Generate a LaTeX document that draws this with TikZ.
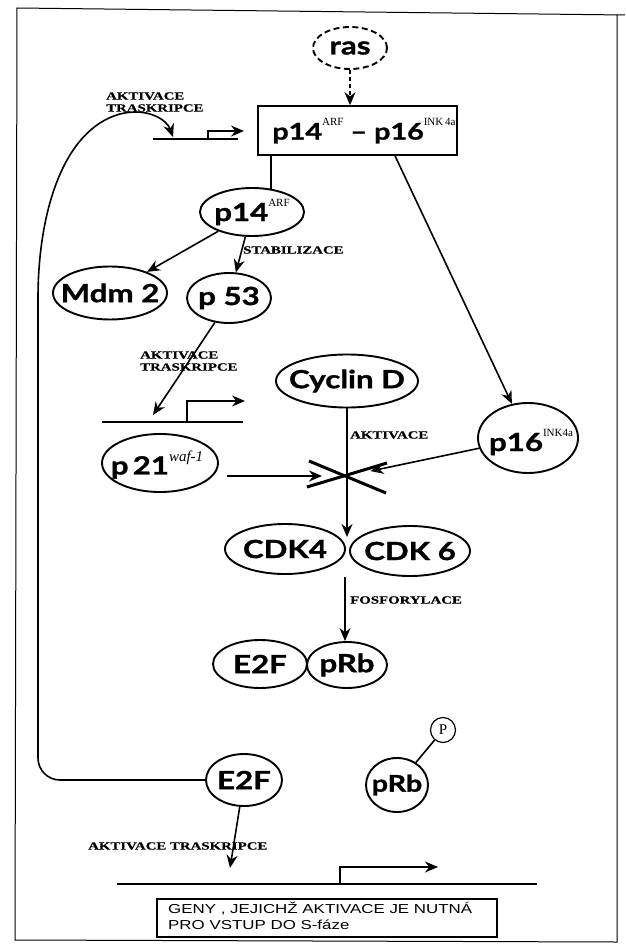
\documentclass[tikz,border=0pt]{standalone}
\usepackage{fontspec}
\setmainfont{Liberation Serif}
\newfontfamily\nodefont[FakeStretch=1.25,FakeBold=1.2]{Lato}
\newfontfamily\labfont[FakeStretch=1.35,FakeBold=0.6]{Liberation Serif}
\newfontfamily\handfont{Liberation Sans}
\usetikzlibrary{shapes.geometric,arrows.meta,calc}
\newcommand{\upx}[1]{\raisebox{0.6em}{\normalfont\fontsize{11}{11}\selectfont #1}}
\begin{document}
\begin{tikzpicture}[x=1pt,y=-1pt,
  ell/.style={ellipse, draw, line width=1.9pt, inner sep=0pt},
  txt/.style={inner sep=0pt, font=\nodefont\bfseries\fontsize{25}{25}\selectfont},
  conn/.style={line width=1.6pt},
  arr/.style={line width=1.6pt, -{Stealth[length=13pt,width=11pt]}},
  lab/.style={inner sep=0pt, anchor=west, align=left,
    font=\labfont\bfseries\fontsize{11}{12}\selectfont},
  xline/.style={line width=3pt}]
\useasboundingbox (0,0) rectangle (625,949);

% frame
\draw[line width=1pt] (625,15) -- (17,8) -- (15,940) -- (617,942) -- (617,15);

% top
\node[ell, dashed, dash pattern=on 6pt off 3.5pt, minimum width=74, minimum height=42] (ras) at (350,48) {};
\node[txt] (rast) at (ras) {ras};
\node[draw, line width=1.6pt, minimum width=199, minimum height=49, inner sep=0pt] (box) at (357.5,130.5) {};
\node[txt, font=\nodefont\bfseries\fontsize{23}{23}\selectfont] (boxt) at (364,131)
  {p14\upx{ARF} \textendash{} p16\upx{INK\,4a}};
\draw[arr, dashed, dash pattern=on 4pt off 3pt] (ras.south) -- (ras.south |- box.north);

% first promoter
\coordinate (g1a) at (153,139);
\coordinate (g1b) at (238,139);
\coordinate (tss1) at (208,139);
\coordinate (tss1e) at (244,131);
\coordinate (c1) at (173,137);
\draw[conn] (g1a) -- (g1b);
\draw[arr] (tss1) |- (tss1e);
\node[lab] (l1) at (106,102) {AKTIVACE\\TRASKRIPCE};

% p14 branch
\node[ell, minimum width=104, minimum height=48] (p14) at (252,212) {};
\node[txt] (p14t) at (p14) {p14\upx{ARF}};
\node[ell, minimum width=114, minimum height=53] (mdm) at (110,293) {};
\node[txt] (mdmt) at (mdm) {Mdm 2};
\node[ell, minimum width=84, minimum height=50] (p53) at (229,298) {};
\node[txt] (p53t) at (p53) {p 53};
\draw[conn] (box.south -| p14.51) -- (p14.51);
\draw[arr] (p14) -- (mdm);
\draw[arr] (p14) -- (p53);
\node[lab] (l2) at (243,250) {STABILIZACE};

% p53 -> second promoter
\coordinate (g2a) at (102,422);
\coordinate (g2b) at (243,422);
\coordinate (tss2) at (187,422);
\coordinate (tss2e) at (245,401);
\coordinate (c2) at (153,415);
\draw[conn] (g2a) -- (g2b);
\draw[arr] (tss2) |- (tss2e);
\draw[arr] (p53.240) -- (c2);
\node[lab] (l3) at (140,361) {AKTIVACE\\TRASKRIPCE};

% middle
\node[ell, minimum width=142, minimum height=53] (cyc) at (347,381) {};
\node[txt] (cyct) at (cyc) {Cyclin D};
\node[ell, minimum width=116, minimum height=58] (p21) at (160,463) {};
\node[txt] (p21t) at (157,465) {p\,21\raisebox{0.5em}{\normalfont\fontsize{15}{15}\selectfont\itshape waf-1}};
\node[ell, minimum width=100, minimum height=70] (p16) at (528,438) {};
\node[txt] (p16t) at (531,442) {p16\upx{INK4a}};
\draw[arr] (box.south -| 395,0) -- (p16);

\coordinate (xc) at (347,476);
\draw[xline] ($(xc)+(-38,-15)$) -- ($(xc)+(39,17)$);
\draw[xline] ($(xc)+(-40,11)$) -- ($(xc)+(40,-13)$);

\node[ell, minimum width=120, minimum height=50] (cdk4) at (285,549) {};
\node[txt] (cdk4t) at (cdk4) {CDK4};
\node[ell, minimum width=120, minimum height=50] (cdk6) at (410,551) {};
\node[txt] (cdk6t) at (cdk6) {CDK 6};
\coordinate (cdkt) at (347,537);
\draw[arr] (cyc) -- (cdkt);
\draw[arr, shorten >=25pt, shorten <=8pt] (p21.east |- xc) -- (xc);
\draw[arr, shorten >=24pt] (p16) -- (xc);
\node[lab] (l4) at (350,435) {AKTIVACE};

% complex
\node[ell, minimum width=94, minimum height=48] (e2fa) at (260,664) {};
\node[txt] (e2fat) at (e2fa) {E2F};
\node[ell, minimum width=80, minimum height=46] (prba) at (347,665) {};
\node[txt] (prbat) at (prba) {pRb};
\coordinate (cdkb) at (345,577);
\draw[arr] (cdkb) -- (prba.north -| cdkb);
\node[lab] (l5) at (350,600) {FOSFORYLACE};

% free E2F and phosphorylated pRb
\node[ell, minimum width=76, minimum height=52] (e2fb) at (244,780) {};
\node[txt] (e2fbt) at (e2fb) {E2F};
\node[ell, minimum width=62, minimum height=54] (prbb) at (397,785) {};
\node[txt, font=\nodefont\bfseries\fontsize{23}{23}\selectfont] (prbbt) at (prbb) {pRb};
\node[circle, draw, line width=1.2pt, minimum size=25pt, inner sep=0pt,
  font=\normalfont\fontsize{15}{15}\selectfont] (pc) at (443,730) {P};
\draw[conn] (prbb.50) -- (pc);

% feedback loop
\draw[arr] (e2fb.west) [rounded corners=22pt] -| (38,320) [sharp corners]
  .. controls (38,215) and (62,130) .. (120,114)
  .. controls (148,107) and (167,120) .. (c1);

% bottom
\coordinate (t3) at (230,868);
\coordinate (g3a) at (117,884);
\coordinate (g3b) at (537,884);
\coordinate (tss3) at (340,884);
\coordinate (tss3e) at (438,867);
\draw[arr] (e2fb) -- (t3);
\draw[conn] (g3a) -- (g3b);
\draw[arr] (tss3) |- (tss3e);
\node[lab] (l6) at (88,846) {AKTIVACE TRASKRIPCE};
\node[draw, line width=1.2pt, minimum width=340, minimum height=38, inner sep=0pt] (gb) at (327,918) {};
\node[anchor=west, inner sep=0pt, font=\handfont\fontsize{13}{16}\selectfont] (gt) at (168,918)
  {\scalebox{1.3}[1]{\begin{tabular}{@{}l@{}}GENY , JEJICHŽ AKTIVACE JE NUTNÁ\\PRO VSTUP DO S-fáze\end{tabular}}};
\end{tikzpicture}
\end{document}
